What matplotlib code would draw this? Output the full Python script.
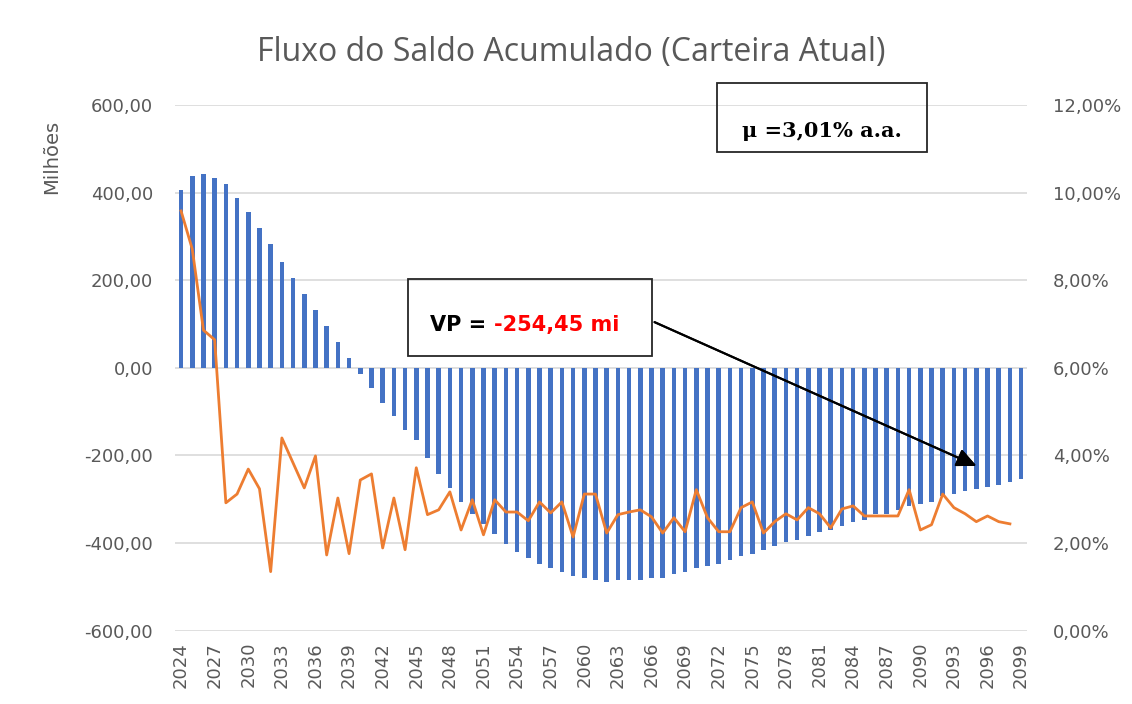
import numpy as np
import matplotlib
matplotlib.use("Agg")
import matplotlib.pyplot as plt
from matplotlib.patches import Rectangle
from matplotlib.ticker import FuncFormatter

# Anos da projeção
anos = np.arange(2024, 2100)

# Saldo acumulado (milhões)
saldo = [406, 438, 442, 433, 420, 388, 356, 319, 283, 242,
         205, 169, 132, 96, 59, 23, -14, -46, -80, -109,
         -141, -164, -205, -242, -274, -306, -333, -356, -379, -401,
         -420, -433, -447, -456, -465, -474, -479, -483, -488, -483,
         -483, -483, -479, -479, -470, -465, -456, -452, -447, -438,
         -429, -424, -415, -406, -397, -392, -383, -374, -369, -360,
         -351, -347, -333, -333, -324, -315, -310, -306, -292, -287,
         -280, -276, -272, -267, -260, -254.45]

# Taxa anual (%), eixo secundário
taxa = [9.58, 8.71, 6.86, 6.64, 2.92, 3.12, 3.69, 3.24, 1.35, 4.40,
        3.83, 3.26, 3.99, 1.73, 3.03, 1.76, 3.44, 3.58, 1.89, 3.03,
        1.85, 3.72, 2.65, 2.76, 3.17, 2.30, 2.99, 2.19, 2.99, 2.71,
        2.71, 2.51, 2.94, 2.69, 2.94, 2.14, 3.12, 3.12, 2.23, 2.65,
        2.71, 2.76, 2.60, 2.23, 2.58, 2.26, 3.22, 2.58, 2.26, 2.26,
        2.81, 2.94, 2.23, 2.49, 2.67, 2.53, 2.81, 2.67, 2.35, 2.78,
        2.85, 2.62, 2.62, 2.62, 2.62, 3.22, 2.30, 2.42, 3.12, 2.81,
        2.67, 2.49, 2.62, 2.49, 2.44, np.nan]

cinza = "#595959"
fig = plt.figure(figsize=(11.32, 7.04), dpi=100)
ax = fig.add_axes([0.155, 0.104, 0.752, 0.747])
x = np.arange(len(anos))

ax.bar(x, saldo, width=0.4, color="#4472C4", zorder=2)
ax.set_ylim(-600, 600)
ax.set_xlim(-0.5, len(anos) - 0.5)
ax.set_yticks(np.arange(-600, 601, 200))
ax.yaxis.set_major_formatter(FuncFormatter(lambda v, p: f"{v:.2f}".replace(".", ",")))
ax.grid(axis="y", color="#d9d9d9", linewidth=1.2, zorder=0)
ax.set_axisbelow(True)
ax.set_xticks(x[::3])
ax.set_xticklabels(anos[::3], rotation=90)
ax.tick_params(axis="x", length=0, labelsize=13, colors=cinza, pad=8)
ax.tick_params(axis="y", length=0, labelsize=13, colors=cinza, pad=16)
for s in ax.spines.values():
    s.set_visible(False)

ax2 = ax.twinx()
ax2.plot(x, taxa, color="#ED7D31", linewidth=2)
ax2.set_ylim(0, 12)
ax2.set_yticks(np.arange(0, 12.1, 2))
ax2.yaxis.set_major_formatter(FuncFormatter(lambda v, p: f"{v:.2f}".replace(".", ",") + "%"))
ax2.tick_params(length=0, labelsize=13, colors=cinza, pad=19)
for s in ax2.spines.values():
    s.set_visible(False)

W, H = 1132, 704
fig.text(0.505, 0.925, "Fluxo do Saldo Acumulado (Carteira Atual)",
         ha="center", va="center", fontsize=23, color=cinza, family="Open Sans")
fig.text(52 / W, 1 - 157 / H, "Milhões", rotation=90, ha="center", va="center",
         fontsize=14, color=cinza)

# caixa da taxa média
fig.patches.append(Rectangle((717 / W, 1 - 152 / H), 210 / W, 69 / H,
                             transform=fig.transFigure, fill=False,
                             edgecolor="#262626", linewidth=1.3))
fig.text(822 / W, 1 - 131 / H, "μ =3,01% a.a.", ha="center", va="center",
         fontsize=15, fontweight="bold", family="DejaVu Serif", color="black")

# caixa do VP
fig.patches.append(Rectangle((408 / W, 1 - 356 / H), 244 / W, 77 / H,
                             transform=fig.transFigure, fill=False,
                             edgecolor="#262626", linewidth=1.3))
t1 = fig.text(430 / W, 1 - 325 / H, "VP = ", ha="left", va="center",
              fontsize=15, fontweight="bold", color="black")
fig.canvas.draw()
bb = t1.get_window_extent()
fig.text(bb.x1 / W, 1 - 325 / H, "-254,45 mi", ha="left", va="center",
         fontsize=15, fontweight="bold", color="#FF0000")

fig.add_artist(plt.annotate("", xy=(979 / W, 1 - 467 / H), xytext=(652 / W, 1 - 321 / H),
                            xycoords="figure fraction", textcoords="figure fraction",
                            arrowprops=dict(arrowstyle="-|>,head_length=1.2,head_width=0.55",
                                            color="black", lw=1.5)))

fig.savefig("out.png", dpi=100)
